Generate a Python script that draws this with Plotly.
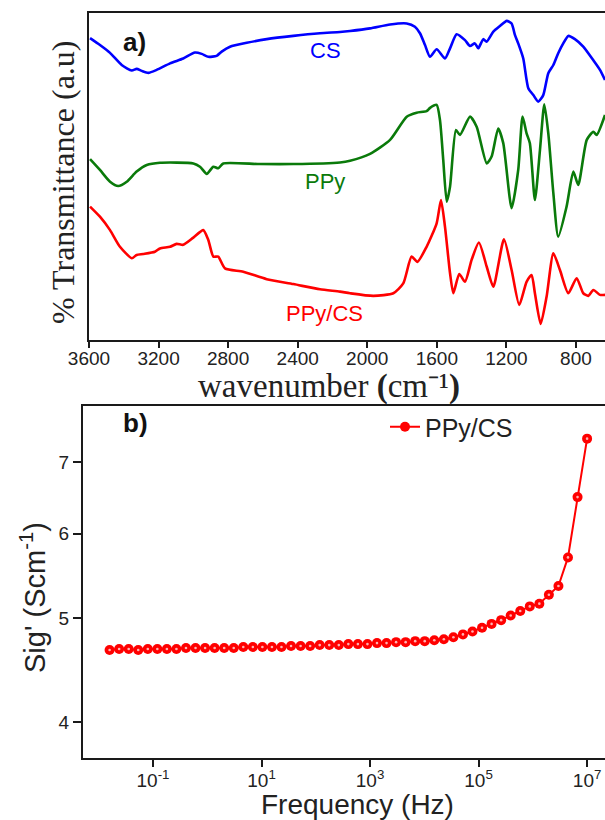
import plotly.graph_objects as go

# ---------------- Panel a) FTIR spectra ----------------
cs_wn = [3594, 3537, 3479, 3412, 3354, 3326, 3297, 3259, 3211, 3134, 3058, 2991, 2952, 2914, 2866,
         2837, 2789, 2693, 2578, 2425, 2272, 2157, 2099, 1984, 1869, 1773, 1726, 1697, 1668, 1639,
         1601, 1553, 1524, 1486, 1438, 1409, 1381, 1362, 1333, 1314, 1275, 1237, 1198, 1170, 1151,
         1132, 1103, 1074, 1045, 1017, 988, 959, 930, 902, 873, 844, 806, 758, 701, 662, 633]
cs_t = [92.3, 90.2, 87.8, 84.1, 82.4, 82.9, 82.3, 81.7, 82.6, 84.6, 86.1, 87.9, 87.5, 86.6, 86.9,
        88.2, 89.7, 90.9, 92.0, 93.0, 93.8, 94.2, 94.5, 95.3, 96.5, 96.8, 95.8, 93.8, 90.2, 86.6,
        88.9, 86.1, 89.2, 93.5, 91.7, 89.9, 90.7, 89.2, 92.0, 91.2, 94.3, 96.0, 97.6, 96.8, 93.3,
        90.7, 86.1, 77.0, 74.9, 72.9, 74.9, 81.6, 84.1, 87.7, 90.7, 93.0, 92.0, 89.7, 85.6, 82.6, 79.5]

ppy_wn = [3594, 3537, 3479, 3432, 3383, 3326, 3268, 3192, 3000, 2962, 2923, 2885, 2857, 2828, 2617,
          2425, 2157, 2099, 1984, 1869, 1773, 1716, 1659, 1639, 1601, 1582, 1563, 1543, 1524, 1490,
          1467, 1409, 1371, 1313, 1285, 1247, 1218, 1170, 1132, 1107, 1084, 1065, 1036, 1007, 982,
          959, 930, 902, 854, 815, 787, 738, 700, 681, 633]
ppy_t = [55.3, 52.0, 48.4, 47.1, 48.4, 51.5, 53.5, 54.2, 54.0, 53.0, 50.8, 53.0, 52.5, 54.0, 53.8,
         53.8, 54.3, 54.8, 56.9, 61.2, 68.3, 69.5, 70.0, 71.0, 71.9, 67.3, 55.0, 42.3, 46.9, 64.2,
         62.7, 68.3, 65.2, 54.0, 56.1, 64.7, 60.2, 40.3, 52.0, 68.3, 63.2, 60.2, 42.8, 58.1, 72.1,
         63.2, 44.9, 31.6, 40.8, 51.5, 47.4, 61.2, 63.7, 62.7, 68.8]

ppycs_wn = [3594, 3537, 3479, 3422, 3354, 3326, 3288, 3221, 3192, 3134, 3096, 3058, 3000, 2943, 2914,
            2885, 2857, 2818, 2713, 2578, 2425, 2272, 2157, 2099, 1965, 1850, 1793, 1745, 1712, 1659,
            1601, 1576, 1553, 1524, 1505, 1471, 1438, 1400, 1358, 1313, 1275, 1214, 1170, 1126, 1084,
            1055, 1036, 1003, 969, 930, 892, 844, 796, 758, 729, 700, 662, 633]
ppycs_t = [40.8, 37.7, 33.6, 28.5, 25.0, 26.0, 26.3, 27.0, 28.0, 28.5, 29.4, 29.1, 31.3, 33.6, 30.6,
           25.5, 25.5, 21.9, 20.9, 18.6, 17.1, 15.5, 14.8, 14.3, 13.5, 14.3, 17.3, 25.5, 23.9, 28.5,
           35.7, 42.8, 34.6, 20.4, 14.3, 20.2, 17.8, 24.5, 29.8, 22.4, 16.3, 30.8, 21.4, 10.7, 17.8,
           19.9, 14.3, 4.9, 13.2, 26.5, 21.4, 14.3, 18.9, 14.3, 13.5, 15.3, 13.8, 13.8]

wn_ticks = [3600, 3200, 2800, 2400, 2000, 1600, 1200, 800]

# ---------------- Panel b) conductivity ----------------
log_freq = [-1.800, -1.624, -1.448, -1.272, -1.096, -0.920, -0.744, -0.568, -0.392, -0.216,
            -0.040, 0.136, 0.312, 0.488, 0.664, 0.840, 1.016, 1.192, 1.368, 1.544,
            1.720, 1.896, 2.072, 2.248, 2.424, 2.600, 2.776, 2.952, 3.128, 3.304,
            3.480, 3.656, 3.832, 4.008, 4.184, 4.360, 4.536, 4.712, 4.888, 5.064,
            5.240, 5.416, 5.592, 5.768, 5.944, 6.120, 6.296, 6.472, 6.648, 6.824, 7.000]
sig = [4.67, 4.68, 4.68, 4.67, 4.68, 4.68, 4.68, 4.68, 4.69, 4.69,
       4.69, 4.69, 4.69, 4.69, 4.70, 4.70, 4.70, 4.70, 4.70, 4.71,
       4.71, 4.71, 4.72, 4.72, 4.72, 4.73, 4.73, 4.73, 4.74, 4.74,
       4.75, 4.75, 4.76, 4.76, 4.77, 4.78, 4.80, 4.83, 4.86, 4.90,
       4.94, 4.98, 5.03, 5.08, 5.13, 5.16, 5.26, 5.36, 5.70, 6.49, 7.36]
freq = [10 ** e for e in log_freq]
f_ticks = [0.1, 10, 1e3, 1e5, 1e7]
f_ticktext = ["10<sup>-1</sup>", "10<sup>1</sup>", "10<sup>3</sup>", "10<sup>5</sup>", "10<sup>7</sup>"]

W, H = 605, 820
def px(x):
    return x / W
def py(y):
    return 1 - y / H

SANS = "Arial, Liberation Sans, sans-serif"
SERIF = "Times New Roman, Liberation Serif, serif"
AX = "#1a1a1a"

fig = go.Figure()
spl = dict(shape="spline", smoothing=0.6, width=2.6)
fig.add_trace(go.Scatter(x=cs_wn, y=cs_t, mode="lines", line=dict(color="#0000ff", **spl),
                         xaxis="x", yaxis="y", showlegend=False))
fig.add_trace(go.Scatter(x=ppy_wn, y=ppy_t, mode="lines", line=dict(color="#0a7a0a", **spl),
                         xaxis="x", yaxis="y", showlegend=False))
fig.add_trace(go.Scatter(x=ppycs_wn, y=ppycs_t, mode="lines", line=dict(color="#ff0000", **spl),
                         xaxis="x", yaxis="y", showlegend=False))

fig.add_trace(go.Scatter(x=freq, y=sig, mode="lines+markers", name="PPy/CS",
                         line=dict(color="#ff0000", width=2),
                         marker=dict(color="#ff0000", size=10, line=dict(width=0)),
                         xaxis="x2", yaxis="y2"))
fig.add_trace(go.Scatter(x=freq, y=sig, mode="markers", showlegend=False, hoverinfo="skip",
                         marker=dict(color="rgba(255,210,210,0.85)", size=2.6, line=dict(width=0)),
                         xaxis="x2", yaxis="y2"))

fig.update_layout(
    template="none",
    width=W, height=H,
    autosize=False,
    margin=dict(l=0, r=0, t=0, b=0, pad=0, autoexpand=False),
    paper_bgcolor="white", plot_bgcolor="white",
    font=dict(family=SANS, color="#1a1a1a"),
    xaxis=dict(domain=[px(89), 1.0], range=[3600, 633], tickvals=wn_ticks, automargin=False,
               showline=True, linecolor=AX, linewidth=2, mirror=True,
               ticks="outside", ticklen=6, tickwidth=2, tickcolor=AX, ticklabelstandoff=-6,
               tickfont=dict(size=19, family=SANS, color="#222"),
               showgrid=False, zeroline=False, anchor="y"),
    yaxis=dict(domain=[py(340), py(13)], range=[0, 100], automargin=False,
               showline=True, linecolor=AX, linewidth=2, mirror=False,
               showticklabels=False, ticks="", showgrid=False, zeroline=False, anchor="x"),
    xaxis2=dict(domain=[px(83), 1.0], type="log", range=[-2.29, 7.33], automargin=False,
                tickvals=f_ticks, ticktext=f_ticktext,
                showline=True, linecolor=AX, linewidth=2, mirror=True,
                ticks="outside", ticklen=7, tickwidth=2, tickcolor=AX, ticklabelstandoff=-3,
                tickfont=dict(size=19, family=SANS, color="#222"),
                showgrid=False, zeroline=False, anchor="y2"),
    yaxis2=dict(domain=[py(758), py(406)], type="log", range=[0.5684, 0.8974], automargin=False,
                tickvals=[4, 5, 6, 7], ticktext=["4", "5", "6", "7"],
                showline=True, linecolor=AX, linewidth=2, mirror=False,
                ticks="outside", ticklen=8, tickwidth=2, tickcolor=AX,
                tickfont=dict(size=19, family=SANS, color="#222"),
                showgrid=False, zeroline=False, anchor="x2"),
    legend=dict(x=px(385), y=py(427), xanchor="left", yanchor="middle",
                font=dict(size=25, family=SANS, color="#222"), bgcolor="rgba(0,0,0,0)"),
    showlegend=True,
)

ann = [
    dict(text="<b>a)</b>", x=px(134), y=py(42), font=dict(size=26, family=SANS, color="#111")),
    dict(text="<b>b)</b>", x=px(135), y=py(423), font=dict(size=26, family=SANS, color="#111")),
    dict(text="CS", x=px(325), y=py(50), font=dict(size=22, family=SANS, color="#0000ff")),
    dict(text="PPy", x=px(325), y=py(182), font=dict(size=22, family=SANS, color="#0a7a0a")),
    dict(text="PPy/CS", x=px(324), y=py(313), font=dict(size=22, family=SANS, color="#ff0000")),
    dict(text="% Transmittance (a.u)", x=px(63), y=py(182), textangle=-90,
         font=dict(size=32, family=SERIF, color="#222")),
    dict(text="wavenumber <b>(</b>cm\u207b\u00b9<b>)</b>", x=px(329), y=py(386),
         font=dict(size=33, family=SERIF, color="#222")),
    dict(text="Sig' (Scm<sup>-1</sup>)", x=px(33), y=py(598), textangle=-90,
         font=dict(size=29, family=SANS, color="#222")),
    dict(text="Frequency (Hz)", x=px(357), y=py(804),
         font=dict(size=28, family=SANS, color="#222")),
]
for a in ann:
    a.update(xref="paper", yref="paper", showarrow=False, xanchor="center", yanchor="middle")
fig.update_layout(annotations=ann)

fig.write_html("out.html", config={"displayModeBar": False},
               post_script="document.body.style.margin='0';document.body.style.overflow='hidden';")
